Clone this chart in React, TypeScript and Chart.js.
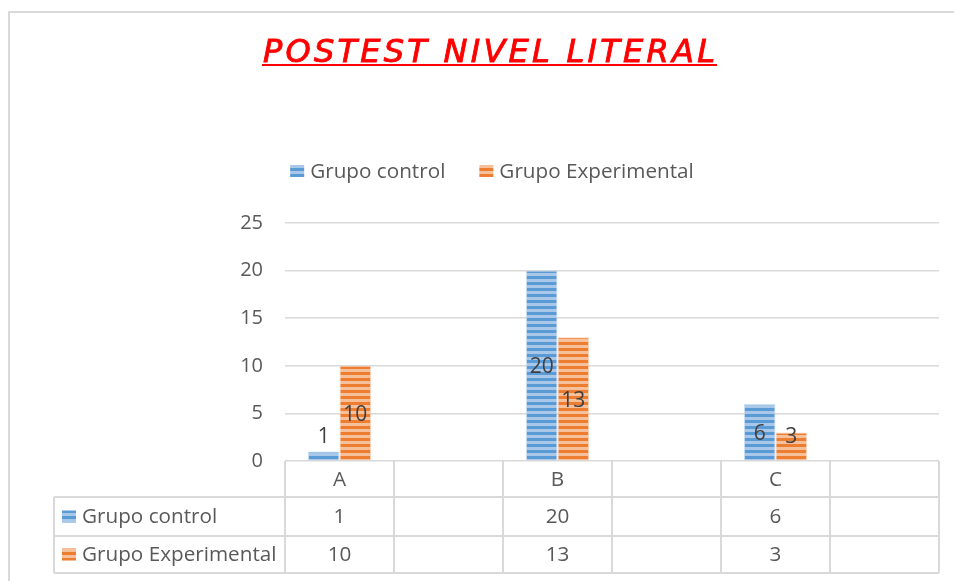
import React, { useEffect, useRef } from "react";
import { Chart, registerables } from "chart.js";
Chart.register(...registerables);

const TITLE = "POSTEST NIVEL LITERAL";
const categories = ["A", "", "B", "", "C", ""];
const grupoControl: (number | null)[] = [1, null, 20, null, 6, null];
const grupoExperimental: (number | null)[] = [10, null, 13, null, 3, null];
const seriesNames = ["Grupo control", "Grupo Experimental"];
const yTicks = [0, 5, 10, 15, 20, 25];

const FONT = '"Open Sans", "Liberation Sans", sans-serif';
const TEXT = "#595959";
const GRID = "#d9d9d9";

function stripe(dark: string, light: string) {
  const c = document.createElement("canvas");
  c.width = 8;
  c.height = 6;
  const x = c.getContext("2d")!;
  x.fillStyle = light;
  x.fillRect(0, 0, 8, 6);
  x.fillStyle = dark;
  x.fillRect(0, 0, 8, 3);
  return x.createPattern(c, "repeat")!;
}

export default function App() {
  const ref = useRef<HTMLCanvasElement>(null);
  useEffect(() => {
    const canvas = ref.current!;
    const blue = stripe("#5b9bd5", "#a9c8e9");
    const orange = stripe("#ed7d31", "#f6c09a");
    const fills = [blue, orange];

    const deco = {
      id: "deco",
      beforeDraw(chart: any) {
        const ctx = chart.ctx;
        ctx.save();
        ctx.fillStyle = "#fff";
        ctx.fillRect(0, 0, chart.width, chart.height);
        ctx.strokeStyle = GRID;
        ctx.lineWidth = 2;
        ctx.beginPath();
        ctx.moveTo(9, chart.height);
        ctx.lineTo(9, 12);
        ctx.lineTo(chart.width, 12);
        ctx.stroke();
        ctx.restore();
      },
      afterDatasetsDraw(chart: any) {
        const ctx = chart.ctx;
        ctx.save();
        ctx.font = `21px ${FONT}`;
        ctx.fillStyle = "#404040";
        ctx.textAlign = "center";
        ctx.textBaseline = "middle";
        chart.data.datasets.forEach((ds: any, di: number) => {
          const meta = chart.getDatasetMeta(di);
          meta.data.forEach((bar: any, i: number) => {
            const v = ds.data[i];
            if (v == null) return;
            const p = bar.getProps(["x", "y", "base"], true);
            const ly = Math.min((p.y + p.base) / 2, p.base - 25) + 2;
            ctx.fillText(String(v), p.x, ly);
          });
        });
        ctx.restore();
      },
      afterDraw(chart: any) {
        const ctx = chart.ctx;
        const area = chart.chartArea;
        ctx.save();
        // Title
        ctx.font = `italic 32px "DejaVu Sans", sans-serif`;
        ctx.fillStyle = "#ff0000";
        ctx.strokeStyle = "#ff0000";
        ctx.lineWidth = 0.9;
        ctx.textBaseline = "alphabetic";
        ctx.textAlign = "left";
        const targetW = 452;
        (ctx as any).letterSpacing = "0px";
        const w0 = ctx.measureText(TITLE).width;
        const ls = (targetW - w0) / (TITLE.length - 1);
        (ctx as any).letterSpacing = `${ls}px`;
        ctx.fillText(TITLE, 263, 62);
        ctx.strokeText(TITLE, 263, 62);
        (ctx as any).letterSpacing = "0px";
        ctx.fillRect(262, 64, 455, 2);

        // Legend
        ctx.font = `20.7px ${FONT}`;
        ctx.textBaseline = "middle";
        const legendY = 171;
        const widths = seriesNames.map((n) => ctx.measureText(n).width);
        const box = 14, gap1 = 6, gap2 = 34;
        const total = widths.reduce((a, b) => a + b, 0) + 2 * (box + gap1) + gap2;
        let lx = 492 - total / 2;
        seriesNames.forEach((n, i) => {
          ctx.fillStyle = fills[i];
          ctx.fillRect(lx, legendY - 6, box, 12);
          ctx.fillStyle = TEXT;
          ctx.fillText(n, lx + box + gap1, legendY + 1);
          lx += box + gap1 + widths[i] + gap2;
        });

        // Data table
        const xs = chart.scales.x;
        const colW = (area.right - area.left) / categories.length;
        const r0 = area.bottom, r1 = 497, r2 = 536, r3 = 573;
        const leftX = 54;
        ctx.strokeStyle = GRID;
        ctx.lineWidth = 2;
        ctx.beginPath();
        for (let i = 0; i <= categories.length; i++) {
          const bx = Math.round(area.left + i * colW);
          ctx.moveTo(bx, r0);
          ctx.lineTo(bx, r3);
        }
        [r1, r2, r3].forEach((ry) => {
          ctx.moveTo(leftX, ry);
          ctx.lineTo(area.right, ry);
        });
        ctx.moveTo(leftX, r1);
        ctx.lineTo(leftX, r3);
        ctx.stroke();

        ctx.fillStyle = TEXT;
        ctx.textAlign = "center";
        const rowsData = [grupoControl, grupoExperimental];
        categories.forEach((c, i) => {
          const cx = xs.getPixelForValue(i);
          ctx.fillText(c, cx, (r0 + r1) / 2 + 1);
          rowsData.forEach((row, ri) => {
            const v = row[i];
            if (v == null) return;
            const ry = ri === 0 ? (r1 + r2) / 2 : (r2 + r3) / 2;
            ctx.fillText(String(v), cx, ry + 1);
          });
        });
        ctx.textAlign = "left";
        seriesNames.forEach((n, ri) => {
          const ry = ri === 0 ? (r1 + r2) / 2 : (r2 + r3) / 2;
          ctx.fillStyle = fills[ri];
          ctx.fillRect(62, ry - 6, 14, 12);
          ctx.fillStyle = TEXT;
          ctx.fillText(n, 82, ry + 1);
        });
        ctx.restore();
      },
    };

    const chart = new Chart(canvas, {
      type: "bar",
      data: {
        labels: categories,
        datasets: [
          {
            label: seriesNames[0],
            data: grupoControl,
            backgroundColor: blue,
            borderColor: "rgba(190,215,240,0.8)",
            borderWidth: { left: 1, right: 1, top: 1, bottom: 0 },
            categoryPercentage: 0.58,
            barPercentage: 1,
          },
          {
            label: seriesNames[1],
            data: grupoExperimental,
            backgroundColor: orange,
            borderColor: "rgba(248,200,170,0.8)",
            borderWidth: { left: 1, right: 1, top: 1, bottom: 0 },
            categoryPercentage: 0.58,
            barPercentage: 1,
          },
        ],
      },
      options: {
        responsive: false,
        animation: false,
        devicePixelRatio: 1,
        layout: { padding: { top: 223, bottom: 120, left: 0, right: 15 } },
        plugins: {
          legend: { display: false },
          title: { display: false },
          tooltip: { enabled: false },
        },
        scales: {
          x: { display: false },
          y: {
            min: 0,
            max: 25,
            afterBuildTicks: (s: any) => {
              s.ticks = yTicks.map((v) => ({ value: v }));
            },
            afterFit: (s: any) => {
              s.width = 285;
            },
            ticks: {
              font: { family: FONT, size: 20 },
              color: TEXT,
              padding: 22,
            },
            grid: { color: GRID, lineWidth: 1.5, drawTicks: false },
            border: { display: false },
          },
        },
      },
      plugins: [deco],
    });
    return () => chart.destroy();
  }, []);

  return (
    <div
      style={{
        position: "fixed",
        left: 0,
        top: 0,
        width: 954,
        height: 581,
        overflow: "hidden",
        background: "#fff",
      }}
    >
      <canvas ref={ref} width={954} height={581} style={{ display: "block" }} />
    </div>
  );
}
